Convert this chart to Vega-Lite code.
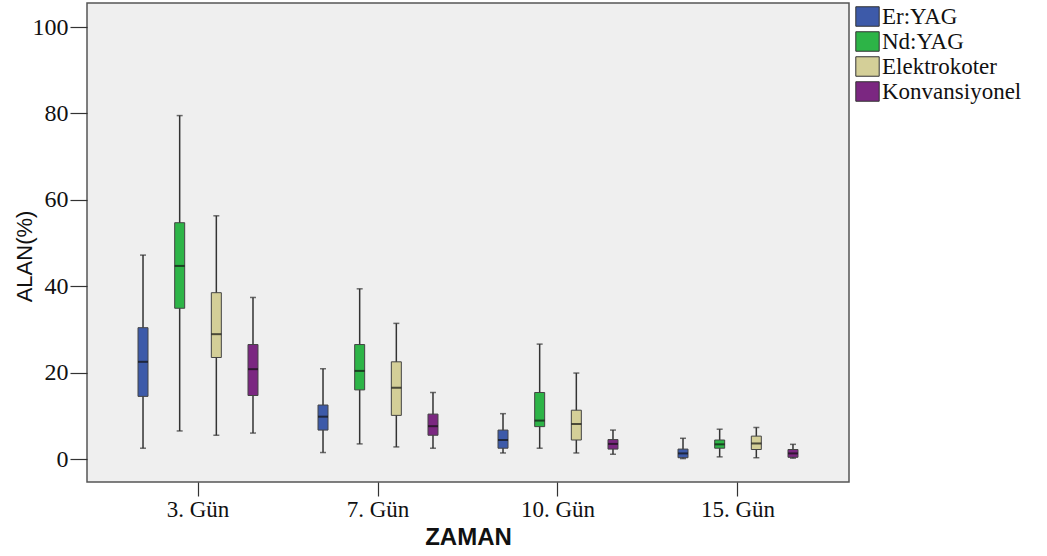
{
  "$schema": "https://vega.github.io/schema/vega-lite/v6.json",
  "width": 762,
  "height": 479,
  "autosize": {"type": "none"},
  "padding": {"left": 87, "top": 3, "right": 198, "bottom": 74},
  "background": "white",
  "config": {
    "view": {"fill": "#efefef", "stroke": "#555555", "strokeWidth": 1.5},
    "axis": {"grid": false, "domain": false, "tickColor": "#333333", "tickWidth": 1.2, "labelColor": "#111111", "titleColor": "#111111"}
  },
  "data": {"values": [
    {"gun": "3. Gün", "yontem": "Er:YAG", "min": 2.5, "q1": 14.5, "med": 22.5, "q3": 30.4, "max": 47.2},
    {"gun": "3. Gün", "yontem": "Nd:YAG", "min": 6.5, "q1": 34.9, "med": 44.7, "q3": 54.7, "max": 79.5},
    {"gun": "3. Gün", "yontem": "Elektrokoter", "min": 5.5, "q1": 23.5, "med": 28.9, "q3": 38.5, "max": 56.3},
    {"gun": "3. Gün", "yontem": "Konvansiyonel", "min": 6.0, "q1": 14.7, "med": 20.8, "q3": 26.5, "max": 37.4},
    {"gun": "7. Gün", "yontem": "Er:YAG", "min": 1.5, "q1": 6.7, "med": 9.8, "q3": 12.5, "max": 20.9},
    {"gun": "7. Gün", "yontem": "Nd:YAG", "min": 3.5, "q1": 16.0, "med": 20.4, "q3": 26.5, "max": 39.4},
    {"gun": "7. Gün", "yontem": "Elektrokoter", "min": 2.8, "q1": 10.1, "med": 16.5, "q3": 22.5, "max": 31.4},
    {"gun": "7. Gün", "yontem": "Konvansiyonel", "min": 2.5, "q1": 5.5, "med": 7.6, "q3": 10.4, "max": 15.4},
    {"gun": "10. Gün", "yontem": "Er:YAG", "min": 1.4, "q1": 2.5, "med": 4.4, "q3": 6.7, "max": 10.5},
    {"gun": "10. Gün", "yontem": "Nd:YAG", "min": 2.5, "q1": 7.5, "med": 8.9, "q3": 15.4, "max": 26.6},
    {"gun": "10. Gün", "yontem": "Elektrokoter", "min": 1.4, "q1": 4.4, "med": 8.1, "q3": 11.3, "max": 19.9},
    {"gun": "10. Gün", "yontem": "Konvansiyonel", "min": 1.1, "q1": 2.3, "med": 3.5, "q3": 4.5, "max": 6.7},
    {"gun": "15. Gün", "yontem": "Er:YAG", "min": 0.1, "q1": 0.3, "med": 1.3, "q3": 2.3, "max": 4.8},
    {"gun": "15. Gün", "yontem": "Nd:YAG", "min": 0.5, "q1": 2.5, "med": 3.4, "q3": 4.4, "max": 6.9},
    {"gun": "15. Gün", "yontem": "Elektrokoter", "min": 0.3, "q1": 2.2, "med": 3.6, "q3": 5.3, "max": 7.3},
    {"gun": "15. Gün", "yontem": "Konvansiyonel", "min": 0.2, "q1": 0.4, "med": 1.3, "q3": 2.2, "max": 3.4}
  ]},
  "encoding": {
    "x": {
      "field": "gun", "type": "nominal",
      "sort": ["3. Gün", "7. Gün", "10. Gün", "15. Gün"],
      "scale": {"paddingInner": 0, "paddingOuter": 0.1167},
      "axis": {
        "title": "ZAMAN", "labelAngle": 0, "tickSize": 14, "labelPadding": 2,
        "labelFont": "Liberation Serif", "labelFontSize": 23,
        "titleFont": "Liberation Sans", "titleFontSize": 24, "titleFontWeight": "bold",
        "titleBaseline": "alphabetic", "titleY": 62
      }
    },
    "xOffset": {
      "field": "yontem", "type": "nominal",
      "sort": ["Er:YAG", "Nd:YAG", "Elektrokoter", "Konvansiyonel"],
      "scale": {"paddingInner": 0, "paddingOuter": 0.455}
    }
  },
  "layer": [
    {
      "mark": {"type": "rule", "color": "#333333", "strokeWidth": 1.5},
      "encoding": {
        "y": {
          "field": "min", "type": "quantitative",
          "scale": {"domain": [-5.32, 105.56], "nice": false, "zero": false},
          "axis": {
            "title": "ALAN(%)", "values": [0, 20, 40, 60, 80, 100], "tickSize": 17, "labelPadding": 2,
            "labelFont": "Liberation Serif", "labelFontSize": 24,
            "titleFont": "Liberation Sans", "titleFontSize": 22, "titleFontWeight": "normal",
            "titleAngle": -90, "titleX": -63, "titleY": 253, "titleAlign": "center", "titleBaseline": "middle"
          }
        },
        "y2": {"field": "max"}
      }
    },
    {
      "mark": {"type": "bar", "size": 10, "stroke": "#444444", "strokeWidth": 1, "opacity": 1},
      "encoding": {
        "y": {"field": "q1", "type": "quantitative"},
        "y2": {"field": "q3"},
        "color": {
          "field": "yontem", "type": "nominal",
          "sort": ["Er:YAG", "Nd:YAG", "Elektrokoter", "Konvansiyonel"],
          "scale": {"domain": ["Er:YAG", "Nd:YAG", "Elektrokoter", "Konvansiyonel"], "range": ["#3d5aa9", "#2db447", "#d4cf98", "#7b2781"]},
          "legend": {
            "title": null, "orient": "none", "legendX": 769, "legendY": 2, "padding": 0,
            "symbolType": "M-1.2,-1H1.2V1H-1.2Z", "symbolSize": 380,
            "symbolStrokeColor": "#333333", "symbolStrokeWidth": 1, "symbolOpacity": 1,
            "labelFont": "Liberation Serif", "labelFontSize": 23, "labelColor": "#111111",
            "labelOffset": 3, "rowPadding": 0
          }
        }
      }
    },
    {
      "mark": {"type": "tick", "size": 10, "thickness": 2, "color": "#111111"},
      "encoding": {"y": {"field": "med", "type": "quantitative"}}
    },
    {
      "mark": {"type": "tick", "size": 6, "thickness": 1.5, "color": "#333333"},
      "encoding": {"y": {"field": "max", "type": "quantitative"}}
    },
    {
      "mark": {"type": "tick", "size": 6, "thickness": 1.5, "color": "#333333"},
      "encoding": {"y": {"field": "min", "type": "quantitative"}}
    }
  ]
}
